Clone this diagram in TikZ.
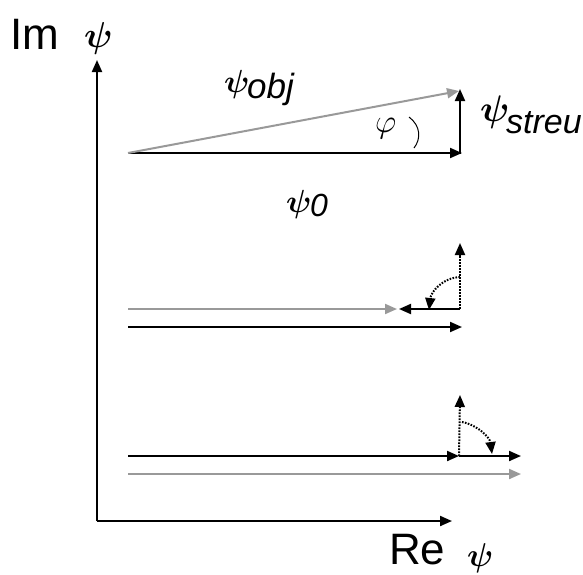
\documentclass[tikz,border=0pt]{standalone}
\usepackage{fix-cm}
\usepackage{fontspec}
\setmainfont{Liberation Sans}
\usetikzlibrary{arrows.meta}
\definecolor{vgray}{gray}{0.6}
\newcommand{\bpsi}{{\boldmath$\psi$}}
\tikzset{
  vec/.style={line width=2pt,-{Triangle[length=12pt,width=10pt]}},
  dotvec/.style={line width=2pt,dash pattern=on 1.6pt off 1.4pt,-{Triangle[length=12pt,width=10pt]}},
  lbl/.style={inner sep=0pt,anchor=base west},
}
\begin{document}
\begin{tikzpicture}[x=1pt,y=-1pt]
\useasboundingbox (0,0) rectangle (583,574);
% axes
\coordinate (O) at (97,521);
\coordinate (Ytip) at (97,60);
\coordinate (Xtip) at (452,521);
\draw[vec] (O) -- (Ytip);
\draw[vec] (O) -- (Xtip);
\node[lbl] (im) at (10,49) {\fontsize{44}{44}\selectfont Im};
\node[lbl] (impsi) at (84,47) {\fontsize{36}{36}\selectfont \bpsi};
\node[lbl] (re) at (389,564) {\fontsize{44}{44}\selectfont Re};
\node[lbl] (repsi) at (467,566) {\fontsize{33}{33}\selectfont \bpsi};
% top diagram
\coordinate (A) at (128,153);
\coordinate (B) at (462,153);
\coordinate (Bs) at (460,154);
\coordinate (C) at (459,91);
\coordinate (Cs) at (460,89);
\draw[vec] (A) -- (B);
\draw[vec,vgray] (A) -- (C);
\draw[vec] (Bs) -- (Cs);
\coordinate (a1) at (409,117);
\coordinate (a2) at (414,148);
\draw[line width=1pt] (a1) .. controls (421,126) and (421,139) .. (a2);
\node[lbl] (phi) at (375,132) {\fontsize{33}{33}\selectfont $\varphi$};
\node[lbl] (pobj) at (224,92) {\fontsize{32}{32}\selectfont \bpsi};
\node[lbl] (sobj) at (247,98) {\fontsize{35}{35}\selectfont\itshape obj};
\node[lbl] (pstr) at (480,121) {\fontsize{37}{37}\selectfont \bpsi};
\node[lbl] (sstr) at (506,133) {\fontsize{34}{34}\selectfont\itshape streu};
\node[lbl] (p0) at (286,212) {\fontsize{32}{32}\selectfont \bpsi};
\node[lbl] (s0) at (310,216) {\fontsize{32}{32}\selectfont\itshape 0};
% middle diagram
\coordinate (M1) at (128,309);
\coordinate (M2) at (397,309);
\coordinate (M3) at (460,309);
\coordinate (M4) at (399,309);
\coordinate (M5) at (460,243);
\coordinate (M6) at (460,277);
\coordinate (M7) at (429,310);
\coordinate (M8) at (128,327);
\coordinate (M9) at (462,327);
\draw[vec,vgray] (M1) -- (M2);
\draw[vec] (M3) -- (M4);
\draw[dotvec] (M3) -- (M5);
\draw[dotvec] (M6) .. controls (442,278) and (431,292) .. (M7);
\draw[vec] (M8) -- (M9);
% bottom diagram
\coordinate (L1) at (128,456);
\coordinate (L2) at (459,456);
\coordinate (L3) at (521,456);
\coordinate (L4) at (460,395);
\coordinate (L5) at (462,422);
\coordinate (L6) at (492,454);
\coordinate (L7) at (128,474);
\coordinate (L8) at (521,474);
\draw[vec] (L1) -- (L2);
\draw[vec] (L2) -- (L3);
\draw[dotvec] (L2) -- (L4);
\draw[dotvec] (L5) .. controls (478,425) and (490,438) .. (L6);
\draw[vec,vgray] (L7) -- (L8);
\end{tikzpicture}
\end{document}
